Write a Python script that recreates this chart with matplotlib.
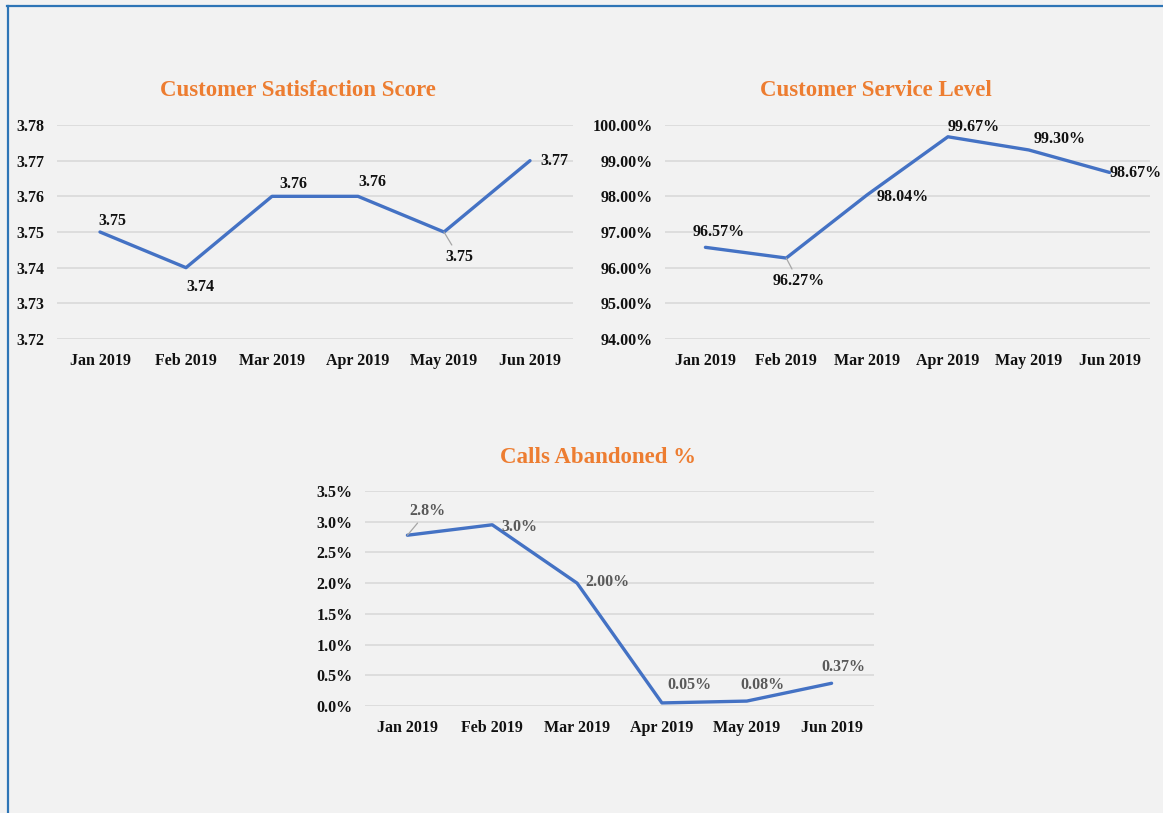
import matplotlib
matplotlib.use("Agg")
import matplotlib.pyplot as plt
from matplotlib.lines import Line2D

months = ["Jan 2019", "Feb 2019", "Mar 2019", "Apr 2019", "May 2019", "Jun 2019"]

csat_values = [3.75, 3.74, 3.76, 3.76, 3.75, 3.77]
csat_labels = ["3.75", "3.74", "3.76", "3.76", "3.75", "3.77"]
csat_ticks = [3.72, 3.73, 3.74, 3.75, 3.76, 3.77, 3.78]

service_values = [96.57, 96.27, 98.04, 99.67, 99.30, 98.67]
service_labels = ["96.57%", "96.27%", "98.04%", "99.67%", "99.30%", "98.67%"]
service_ticks = [94, 95, 96, 97, 98, 99, 100]

abandon_values = [2.78, 2.95, 2.00, 0.05, 0.08, 0.37]
abandon_labels = ["2.8%", "3.0%", "2.00%", "0.05%", "0.08%", "0.37%"]
abandon_ticks = [0.0, 0.5, 1.0, 1.5, 2.0, 2.5, 3.0, 3.5]

W, H = 1163, 813
BG = "#f2f2f2"
LINE = "#4472C4"
GRID = "#d9d9d9"
ORANGE = "#ED7D31"
FONT = "Liberation Serif"

plt.rcParams["font.family"] = [FONT, "DejaVu Serif"]
plt.rcParams["font.weight"] = "bold"

fig = plt.figure(figsize=(W / 100, H / 100), dpi=100, facecolor=BG)


def px_axes(left, top, right, bottom):
    return fig.add_axes([left / W, (H - bottom) / H, (right - left) / W, (bottom - top) / H])


def setup(ax, ticks, fmt):
    ax.set_facecolor(BG)
    for s in ax.spines.values():
        s.set_visible(False)
    ax.set_xlim(-0.5, 5.5)
    ax.set_ylim(ticks[0], ticks[-1])
    ax.set_yticks(ticks)
    ax.set_yticklabels([fmt(t) for t in ticks])
    ax.set_xticks(range(len(months)))
    ax.set_xticklabels(months)
    ax.tick_params(axis="both", length=0, labelsize=11.5, colors="#111111")
    ax.tick_params(axis="y", pad=9)
    ax.tick_params(axis="x", pad=10)
    for t in ax.get_xticklabels() + ax.get_yticklabels():
        t.set_fontweight("bold")
    ax.yaxis.grid(True, color=GRID, linewidth=1.2)
    ax.set_axisbelow(True)


def labels(ax, values, texts, offsets, color, leaders=()):
    for i, (v, t, (dx, dy)) in enumerate(zip(values, texts, offsets)):
        kw = {}
        if i in leaders:
            kw["arrowprops"] = dict(arrowstyle="-", color="#a6a6a6", lw=0.9,
                                    shrinkA=1, shrinkB=0)
        ax.annotate(t, (i, v), xytext=(dx, dy), textcoords="offset pixels",
                    ha="center", va="center", fontsize=11.5, fontweight="bold",
                    color=color, **kw)


# Chart 1
ax1 = px_axes(57, 125, 573, 339)
setup(ax1, csat_ticks, lambda t: f"{t:.2f}")
ax1.plot(range(6), csat_values, color=LINE, lw=2.4, solid_capstyle="round")
labels(ax1, csat_values, csat_labels,
       [(12, 11), (14, -19), (21, 12), (14, 14), (15, -25), (24, 0)],
       "#111111", leaders=(4,))
fig.text(298 / W, (H - 90) / H, "Customer Satisfaction Score", ha="center", va="center",
         fontsize=16.5, fontweight="bold", color=ORANGE)

# Chart 2
ax2 = px_axes(665, 125, 1150, 339)
setup(ax2, service_ticks, lambda t: f"{t:.2f}%")
ax2.plot(range(6), service_values, color=LINE, lw=2.4, solid_capstyle="round")
labels(ax2, service_values, service_labels,
       [(13, 15), (12, -23), (36, -2), (26, 10), (31, 11), (26, -1)],
       "#111111", leaders=(1,))
fig.text(876 / W, (H - 90) / H, "Customer Service Level", ha="center", va="center",
         fontsize=16.5, fontweight="bold", color=ORANGE)

# Chart 3
ax3 = px_axes(365, 491, 874, 706)
setup(ax3, abandon_ticks, lambda t: f"{t:.1f}%")
ax3.plot(range(6), abandon_values, color=LINE, lw=2.4, solid_capstyle="round")
labels(ax3, abandon_values, abandon_labels,
       [(20, 24), (27, -2), (30, 1), (28, 18), (16, 16), (12, 16)],
       "#595959", leaders=(0,))
fig.text(598 / W, (H - 457) / H, "Calls Abandoned %", ha="center", va="center",
         fontsize=16.5, fontweight="bold", color=ORANGE)

# Border lines
fig.add_artist(Line2D([7 / W, 1.0], [(H - 6) / H, (H - 6) / H], color="#2E75B6", lw=1.6,
                      transform=fig.transFigure))
fig.add_artist(Line2D([8 / W, 8 / W], [0, (H - 6) / H], color="#2E75B6", lw=1.6,
                      transform=fig.transFigure))

fig.savefig("out.png", dpi=100, facecolor=BG)
